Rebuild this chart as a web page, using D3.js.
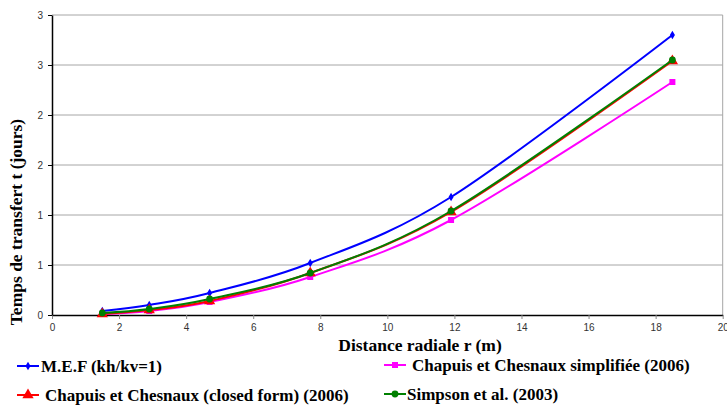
<!DOCTYPE html>
<html><head><meta charset="utf-8">
<script src="https://cdn.jsdelivr.net/npm/d3@7"></script>
<style>body{margin:0;background:#fff}svg{display:block}</style>
</head><body><svg id="c" width="727" height="408"></svg>
<script>
const xValues = [1.5, 2.9, 4.7, 7.7, 11.9, 18.5];
const mef = [0.04, 0.10, 0.22, 0.52, 1.18, 2.80];
const chapuisSimpl = [0.01, 0.04, 0.13, 0.38, 0.95, 2.33];
const chapuisClosed = [0.01, 0.05, 0.14, 0.42, 1.03, 2.54];
const simpson = [0.02, 0.06, 0.16, 0.42, 1.04, 2.55];
const seriesNames = ["M.E.F (kh/kv=1)", "Chapuis et Chesnaux simplifiée (2006)", "Chapuis et Chesnaux (closed form) (2006)", "Simpson et al. (2003)"];
const xTicks = [0, 2, 4, 6, 8, 10, 12, 14, 16, 18, 20];
const yTicks = [0, 0.5, 1, 1.5, 2, 2.5, 3];
const yTickLabels = ["0", "1", "1", "2", "2", "3", "3"];
const xTitle = "Distance radiale r (m)";
const yTitle = "Temps de transfert t (jours)";

const svg = d3.select("#c");
const m = {l: 52, r: 722.7, t: 15, b: 315};
const x = d3.scaleLinear().domain([0, 20]).range([m.l, m.r]);
const y = d3.scaleLinear().domain([0, 3]).range([m.b, m.t]);

// gridlines
svg.append("g").selectAll("line").data(yTicks.filter(d => d > 0)).join("line")
  .attr("x1", m.l).attr("x2", m.r).attr("y1", d => y(d)).attr("y2", d => y(d))
  .attr("stroke", "#a6a6a6").attr("stroke-width", 1);
// right border
svg.append("line").attr("x1", m.r).attr("x2", m.r).attr("y1", m.t).attr("y2", m.b)
  .attr("stroke", "#a6a6a6").attr("stroke-width", 1);

// axes
const xa = svg.append("g").attr("transform", `translate(0,${m.b})`)
  .call(d3.axisBottom(x).tickValues(xTicks).tickSize(4).tickSizeOuter(0).tickFormat(d3.format("d")));
xa.select(".domain").attr("stroke", "#000").attr("stroke-width", 1.5);
xa.selectAll(".tick line").attr("stroke", "#888");
xa.selectAll(".tick text").attr("font-family", "Liberation Sans, Arial, sans-serif").attr("font-size", 10).attr("fill", "#333").attr("dy", "0.9em");

const ya = svg.append("g").attr("transform", `translate(${m.l},0)`)
  .call(d3.axisLeft(y).tickValues(yTicks).tickSize(4).tickSizeOuter(0).tickFormat((d, i) => yTickLabels[i]));
ya.select(".domain").attr("stroke", "#000").attr("stroke-width", 1.5);
ya.selectAll(".tick line").attr("stroke", "#000");
ya.selectAll(".tick text").attr("font-family", "Liberation Sans, Arial, sans-serif").attr("font-size", 10).attr("fill", "#333").attr("x", -9);

// titles
svg.append("text").attr("x", 420).attr("y", 351).attr("text-anchor", "middle")
  .attr("font-family", "Liberation Serif, Times New Roman, serif").attr("font-weight", "bold").attr("font-size", 17.5)
  .text(xTitle);
svg.append("text").attr("transform", "translate(22,222) rotate(-90)").attr("text-anchor", "middle")
  .attr("font-family", "Liberation Serif, Times New Roman, serif").attr("font-weight", "bold").attr("font-size", 17.5)
  .text(yTitle);

const colors = ["#0000ff", "#ff00ff", "#ff0000", "#008000"];
const symbols = [d3.symbolDiamond, d3.symbolSquare, d3.symbolTriangle, d3.symbolCircle];
const sizes = [22, 36, 55, 36];
const data = [mef, chapuisSimpl, chapuisClosed, simpson];

const line = d3.line().x(d => x(d[0])).y(d => y(d[1])).curve(d3.curveCatmullRom.alpha(0));
const plot = svg.append("g");
data.forEach((vals, i) => {
  const pts = xValues.map((xv, j) => [xv, vals[j]]);
  plot.append("path").datum(pts).attr("d", line).attr("fill", "none")
    .attr("stroke", colors[i]).attr("stroke-width", 2);
  plot.append("g").selectAll("path").data(pts).join("path")
    .attr("transform", d => `translate(${x(d[0])},${y(d[1])})`)
    .attr("d", d3.symbol().type(symbols[i]).size(sizes[i]))
    .attr("fill", colors[i]);
});

// legend
const legPos = [[17, 366, 41], [384, 365, 412], [17, 395, 45], [384, 394, 407]];
seriesNames.forEach((name, i) => {
  const [lx, ly, tx] = legPos[i];
  const g = svg.append("g");
  g.append("line").attr("x1", lx).attr("x2", lx + 22).attr("y1", ly).attr("y2", ly)
    .attr("stroke", colors[i]).attr("stroke-width", 2);
  g.append("path").attr("transform", `translate(${lx + 11},${ly})`)
    .attr("d", d3.symbol().type(symbols[i]).size(sizes[i])).attr("fill", colors[i]);
  g.append("text").attr("x", tx).attr("y", ly + 6)
    .attr("font-family", "Liberation Serif, Times New Roman, serif").attr("font-weight", "bold").attr("font-size", 17)
    .text(name);
});
</script></body></html>
